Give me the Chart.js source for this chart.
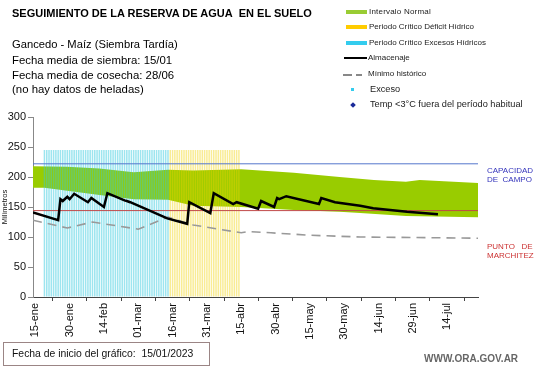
<!DOCTYPE html>
<html>
<head>
<meta charset="utf-8">
<script src="https://cdn.jsdelivr.net/npm/chart.js@4/dist/chart.umd.min.js"></script>
<style>
  body { margin:0; width:541px; height:368px; background:#fff; position:relative; overflow:hidden;
         font-family:"Liberation Sans", Arial, sans-serif; }
  #wrap { position:absolute; left:0; top:0; width:541px; height:368px; }
  .t { position:absolute; white-space:nowrap; color:#000; }
  .leg { position:absolute; left:344px; font-size:8px; color:#222; }
  .sw { position:absolute; left:346px; width:21px; height:4px; }
</style>
</head>
<body>
<div id="wrap"><canvas id="myChart" width="541" height="368"></canvas></div>

<div class="t" style="left:12px;top:7px;font-size:11px;font-weight:bold;">SEGUIMIENTO DE LA RESERVA DE AGUA&nbsp; EN EL SUELO</div>
<div class="t" style="left:12px;top:38px;font-size:11.2px;">Gancedo - Maíz (Siembra Tardía)</div>
<div class="t" style="left:12px;top:53px;font-size:11.4px;line-height:14.5px;">Fecha media de siembra: 15/01<br>Fecha media de cosecha: 28/06<br>(no hay datos de heladas)</div>

<div class="sw" style="top:10px;background:#99cc33;"></div>
<div class="leg" style="left:369px;top:7px;letter-spacing:0.2px;">Intervalo Normal</div>
<div class="sw" style="top:25px;background:#ffcc00;"></div>
<div class="leg" style="left:369px;top:22px;">Periodo Crítico Déficit Hídrico</div>
<div class="sw" style="top:41px;background:#33ccee;"></div>
<div class="leg" style="left:369px;top:38px;">Periodo Crítico Excesos Hídricos</div>
<div class="sw" style="top:57px;height:2px;left:344px;width:23px;background:#000;"></div>
<div class="leg" style="left:368px;top:53px;">Almacenaje</div>
<div class="sw" style="top:74px;height:2px;left:343px;width:9px;background:#888;"></div>
<div class="sw" style="top:74px;height:2px;left:356px;width:6px;background:#888;"></div>
<div class="leg" style="left:368px;top:69px;">Mínimo histórico</div>
<div class="sw" style="top:88px;left:351px;width:3px;height:3px;background:#33ccee;"></div>
<div class="leg" style="left:370px;top:84px;font-size:9.2px;">Exceso</div>
<div class="sw" style="top:103px;left:351px;width:4px;height:4px;background:#1a2a99;transform:rotate(45deg);"></div>
<div class="leg" style="left:370px;top:99px;font-size:9.2px;">Temp &lt;3°C fuera del período habitual</div>

<div class="t" style="left:487px;top:166px;font-size:8px;line-height:9px;color:#3333bb;">CAPACIDAD<br>DE&nbsp; CAMPO</div>
<div class="t" style="left:487px;top:242px;font-size:8px;line-height:9px;color:#cc3333;">PUNTO&nbsp;&nbsp; DE<br>MARCHITEZ</div>

<div class="t" style="left:3px;top:342px;width:205px;height:22px;border:1px solid #9b8585;"></div>
<div class="t" style="left:12px;top:348px;font-size:10.4px;color:#111;">Fecha de inicio del gráfico:&nbsp; 15/01/2023</div>
<div class="t" style="left:424px;top:353px;font-size:10px;font-weight:bold;color:#666;">WWW.ORA.GOV.AR</div>

<script>
// days counted from 15-ene (day 0)
var tickDays = [0, 15, 30, 45, 60, 75, 90, 105, 120, 135, 150, 165, 180]
var tickLabels = ['15-ene','30-ene','14-feb','01-mar','16-mar','31-mar','15-abr','30-abr','15-may','30-may','14-jun','29-jun','14-jul']

var capacidadCampo = 222
var puntoMarchitez = 144

var bandDays  = [-1, 14, 28, 43, 58, 69, 90, 113, 133, 148, 162, 168, 193.5]
var bandUpper = [218, 217, 214, 208, 212, 211, 213, 207, 200, 195, 192, 195, 190]
var bandLowerDays = [-1, 4, 28, 43, 58, 69, 90, 113, 133, 142, 162, 193.5]
var bandLower = [182, 182, 170, 163, 162, 152, 150, 145, 142, 140, 135, 133]

var almDays = [-1, 10, 11, 12, 14, 15, 17, 23, 24.5, 30, 31.5, 39, 40, 41.5, 57.7, 66.4, 67.3, 76.5, 78, 86.5, 88, 97.4, 98.7, 104.4, 105.7, 106.6, 109.7, 124, 125, 131, 142, 147.7, 162.5, 176]
var almValues = [141, 128, 163, 160, 167, 163, 172, 158, 165, 150, 173, 161, 160, 158, 131, 122, 158, 140, 173, 155, 158, 147, 160, 150, 165, 163, 168, 155, 165, 158, 152, 148, 142, 138]

var minDays = [-1, 14, 25, 45, 58, 69, 90, 93, 103, 120, 142, 193.5]
var minValues = [128, 115, 125, 113, 133, 120, 107, 109, 107, 103, 100, 98]

var excesoPeriod = [4, 58]
var deficitPeriod = [59, 89]
var periodHeight = 245

function pts(xs, ys) {
  var out = []
  for (var i = 0; i < xs.length; i++) out.push({x: xs[i], y: ys[i]})
  return out
}
function periodBars(p) {
  var out = []
  for (var d = p[0]; d <= p[1]; d++) out.push({x: d, y: periodHeight})
  return out
}

const ctx = document.getElementById('myChart')
const chart1 = new Chart(ctx, {
  type: 'line',
  data: {
    datasets: [{
      label: 'lower', data: pts(bandLowerDays, bandLower),
      borderWidth: 0, pointRadius: 0, fill: false, order: 6
    }, {
      label: 'Intervalo Normal', data: pts(bandDays, bandUpper),
      borderWidth: 0, pointRadius: 0, fill: '-1', backgroundColor: '#99cc00', order: 5
    }, {
      type: 'bar', label: 'Excesos', data: periodBars(excesoPeriod),
      backgroundColor: 'rgba(51,200,222,0.48)', barPercentage: 0.66, categoryPercentage: 1, grouped: false, order: 4
    }, {
      type: 'bar', label: 'Deficit', data: periodBars(deficitPeriod),
      backgroundColor: 'rgba(240,210,0,0.42)', barPercentage: 0.66, categoryPercentage: 1, grouped: false, order: 4
    }, {
      label: 'Capacidad', data: [{x: -1, y: capacidadCampo}, {x: 193.5, y: capacidadCampo}],
      borderColor: '#5577cc', borderWidth: 1, pointRadius: 0, order: 3
    }, {
      label: 'Marchitez', data: [{x: -1, y: puntoMarchitez}, {x: 193.5, y: puntoMarchitez}],
      borderColor: '#c04848', borderWidth: 1, pointRadius: 0, order: 3
    }, {
      label: 'Minimo', data: pts(minDays, minValues),
      borderColor: '#999', borderWidth: 1.6, borderDash: [9, 6], pointRadius: 0, order: 2
    }, {
      label: 'Almacenaje', data: pts(almDays, almValues),
      borderColor: '#000', borderWidth: 2.5, pointRadius: 0, order: 1
    }]
  },
  options: {
    responsive: false,
    animation: false,
    layout: {padding: {left: 0, top: 117, right: 63, bottom: 19}},
    plugins: {legend: {display: false}, tooltip: {enabled: false}},
    scales: {
      x: {
        type: 'linear', min: -1, max: 193.5, offset: false,
        afterBuildTicks: function (scale) { scale.ticks = tickDays.map(v => ({value: v})) },
        afterFit: function (scale) { scale.height = 52 },
        border: {color: '#444', width: 1},
        grid: {drawOnChartArea: false, drawTicks: true, tickLength: 4, color: '#444'},
        ticks: {
          minRotation: 90, maxRotation: 90, autoSkip: false, padding: 2,
          color: '#111', font: {family: 'Liberation Sans', size: 11},
          callback: function (v) { var i = tickDays.indexOf(v); return i >= 0 ? tickLabels[i] : '' }
        }
      },
      y: {
        min: 0, max: 300,
        afterFit: function (scale) { scale.width = 33 },
        border: {color: '#888', width: 1},
        grid: {drawOnChartArea: false, drawTicks: true, tickLength: 5, color: '#888'},
        ticks: {stepSize: 50, padding: 2, color: '#111', font: {family: 'Liberation Sans', size: 11}},
        title: {display: true, text: 'Milímetros', padding: {top: 0, bottom: 2}, color: '#111', font: {family: 'Liberation Sans', size: 7.5}}
      }
    }
  }
});
</script>
</body>
</html>
